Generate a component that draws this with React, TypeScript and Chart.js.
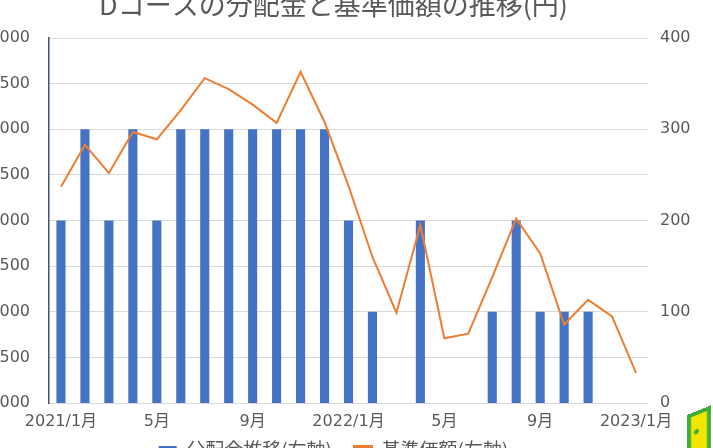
import React, { useEffect, useRef } from 'react';
import Chart from 'chart.js/auto';

const months: string[] = [
  '2021/1月', '2月', '3月', '4月', '5月', '6月', '7月', '8月', '9月', '10月', '11月', '12月',
  '2022/1月', '2月', '3月', '4月', '5月', '6月', '7月', '8月', '9月', '10月', '11月', '12月',
  '2023/1月',
];

// 分配金 (右軸)
const distribution: number[] = [
  200, 300, 200, 300, 200, 300, 300, 300, 300, 300, 300, 300,
  200, 100, 0, 200, 0, 0, 100, 200, 100, 100, 100, 0,
  0,
];

// 基準価額 (左軸)
const basePrice: number[] = [
  8370, 8830, 8520, 8970, 8890, 9210, 9560, 9440, 9270, 9070, 9630, 9080,
  8380, 7600, 6990, 7950, 6710, 6760, 7380, 8020, 7640, 6860, 7130, 6950,
  6330,
];

const FONT = '"Noto Sans CJK JP", "Noto Sans", sans-serif';
const TICK_FONT = '"DejaVu Sans", "Noto Sans CJK JP", sans-serif';
const GREY_TEXT = '#595959';

// canvas is larger than the window and shifted, so the edges get cut like the picture
const OFF_X = 46;
const OFF_Y = 14;
const CW = 759;
const CH = 498;
const LEGEND_LIFT = 15;

// pulls the legend up closer to the axis labels, keeping the wide gap between items
const liftLegend = {
  id: 'liftLegend',
  afterLayout(chart: any) {
    const lg = chart.legend;
    if (!lg) return;
    lg.top -= LEGEND_LIFT;
    lg.bottom -= LEGEND_LIFT;
  },
};

const App: React.FC = () => {
  const canvasRef = useRef<HTMLCanvasElement>(null);

  useEffect(() => {
    if (!canvasRef.current) return;
    const chart = new Chart(canvasRef.current, {
      type: 'bar',
      data: {
        labels: months,
        datasets: [
          {
            type: 'bar',
            label: '分配金推移(右軸)',
            data: distribution,
            backgroundColor: '#4472C4',
            barPercentage: 0.38,
            categoryPercentage: 1,
            yAxisID: 'yRight',
            order: 2,
          },
          {
            type: 'line',
            label: '基準価額(左軸)',
            data: basePrice,
            borderColor: '#ED7D31',
            backgroundColor: '#ED7D31',
            borderWidth: 2,
            pointRadius: 0,
            tension: 0,
            yAxisID: 'yLeft',
            order: 1,
          },
        ],
      },
      options: {
        responsive: false,
        animation: false,
        layout: { padding: 0 },
        plugins: {
          title: {
            display: true,
            text: 'Dコースの分配金と基準価額の推移(円)',
            color: GREY_TEXT,
            font: { family: FONT, size: 27, weight: 'normal' },
            padding: { top: 3, bottom: 16.6 },
          },
          legend: {
            position: 'bottom',
            labels: {
              color: GREY_TEXT,
              font: { family: FONT, size: 19 },
              boxWidth: 18,
              boxHeight: 7,
              padding: 22,
              sort: (a: any, b: any) => a.datasetIndex - b.datasetIndex,
            },
          },
          tooltip: { enabled: false },
        },
        scales: {
          x: {
            grid: { display: false, drawTicks: false },
            border: { display: false },
            ticks: {
              color: GREY_TEXT,
              font: { family: TICK_FONT, size: 16 },
              padding: 9,
              autoSkip: false,
              maxRotation: 0,
              callback: (_v: any, i: number) => (i % 4 === 0 ? months[i] : ''),
            },
            afterFit: (s: any) => { s.height = 30; },
          },
          yLeft: {
            position: 'left',
            min: 6000,
            max: 10000,
            ticks: {
              stepSize: 500,
              color: GREY_TEXT,
              font: { family: TICK_FONT, size: 16 },
              padding: 19,
              callback: (v: any) => String(v),
            },
            grid: { color: '#D9D9D9', drawTicks: false },
            border: { display: true, color: '#44546A', width: 1.5 },
            afterFit: (s: any) => { s.width = 95; },
          },
          yRight: {
            position: 'right',
            min: 0,
            max: 400,
            ticks: {
              stepSize: 100,
              color: GREY_TEXT,
              font: { family: TICK_FONT, size: 16 },
              padding: 12,
              callback: (v: any) => String(v),
            },
            grid: { display: false, drawTicks: false },
            border: { display: false },
            afterFit: (s: any) => { s.width = 65; },
          },
        },
      },
      plugins: [liftLegend],
    });
    return () => chart.destroy();
  }, []);

  return (
    <div style={{ position: 'fixed', left: 0, top: 0, width: 713, height: 448, overflow: 'hidden', background: '#fff' }}>
      <canvas
        ref={canvasRef}
        width={CW}
        height={CH}
        style={{ position: 'absolute', left: -OFF_X, top: -OFF_Y, width: CW, height: CH }}
      />
      {/* door mark in the corner */}
      <div
        style={{
          position: 'absolute', left: 687, top: 415, width: 24, height: 50, boxSizing: 'border-box',
          background: '#F2E600', border: '4px solid #3DAE3A', transform: 'skewY(-22deg)',
          transformOrigin: 'left top',
        }}
      >
        <div style={{ position: 'absolute', left: 3, top: 14, width: 5, height: 5, borderRadius: '50%', background: '#3DAE3A' }} />
      </div>
    </div>
  );
};

export default App;
